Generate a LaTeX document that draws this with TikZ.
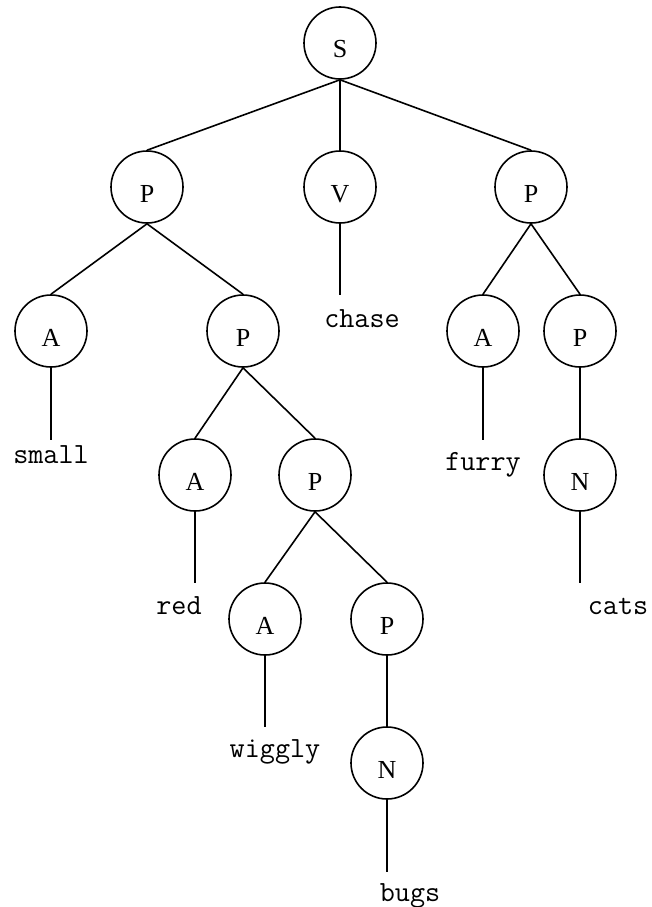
\documentclass[tikz,border=0pt]{standalone}
\usepackage{fontspec}
\setmainfont{Liberation Serif}
\begin{document}
\begin{tikzpicture}[x=1pt,y=-1pt,
  tn/.style={circle,draw,line width=1.6pt,minimum size=72pt,inner sep=0pt,
    text height=30pt,text depth=0pt,font=\fontsize{26}{26}\selectfont},
  wd/.style={anchor=base,inner sep=0pt,font=\ttfamily\fontsize{29.3}{29.3}\selectfont},
  edge/.style={line width=1.6pt}]
\useasboundingbox (0,0) rectangle (651,907);
% circles
\node[tn] (S) at (340,43) {S};
\node[tn] (P1) at (147,187) {P};
\node[tn] (V) at (340,187) {V};
\node[tn] (P2) at (531,187) {P};
\node[tn] (A1) at (51,331) {A};
\node[tn] (P3) at (243,331) {P};
\node[tn] (A2) at (483,331) {A};
\node[tn] (P4) at (580,331) {P};
\node[tn] (A3) at (195,475) {A};
\node[tn] (P5) at (315,475) {P};
\node[tn] (N1) at (580,475) {N};
\node[tn] (A4) at (265,619) {A};
\node[tn] (P6) at (387,619) {P};
\node[tn] (N2) at (387,763) {N};
% words
\node[wd] (wsmall) at (51,463) {small};
\node[wd] (wchase) at (362,327) {chase};
\node[wd] (wfurry) at (483,470) {furry};
\node[wd] (wred) at (179,614) {red};
\node[wd] (wcats) at (618,614) {cats};
\node[wd] (wwiggly) at (275,757) {wiggly};
\node[wd] (wbugs) at (410,901) {bugs};
% word line ends
\coordinate (esmall) at (51,440);
\coordinate (echase) at (340,295);
\coordinate (efurry) at (483,440);
\coordinate (ered) at (195,583);
\coordinate (ecats) at (580,583);
\coordinate (ewiggly) at (265,727);
\coordinate (ebugs) at (387,872);
% edges
\draw[edge] (S.south) -- (P1.north);
\draw[edge] (S.south) -- (V.north);
\draw[edge] (S.south) -- (P2.north);
\draw[edge] (P1.south) -- (A1.north);
\draw[edge] (P1.south) -- (P3.north);
\draw[edge] (P2.south) -- (A2.north);
\draw[edge] (P2.south) -- (P4.north);
\draw[edge] (P3.south) -- (A3.north);
\draw[edge] (P3.south) -- (P5.north);
\draw[edge] (P4.south) -- (N1.north);
\draw[edge] (P5.south) -- (A4.north);
\draw[edge] (P5.south) -- (P6.north);
\draw[edge] (P6.south) -- (N2.north);
\draw[edge] (A1.south) -- (esmall);
\draw[edge] (V.south) -- (echase);
\draw[edge] (A2.south) -- (efurry);
\draw[edge] (A3.south) -- (ered);
\draw[edge] (N1.south) -- (ecats);
\draw[edge] (A4.south) -- (ewiggly);
\draw[edge] (N2.south) -- (ebugs);
\end{tikzpicture}
\end{document}
